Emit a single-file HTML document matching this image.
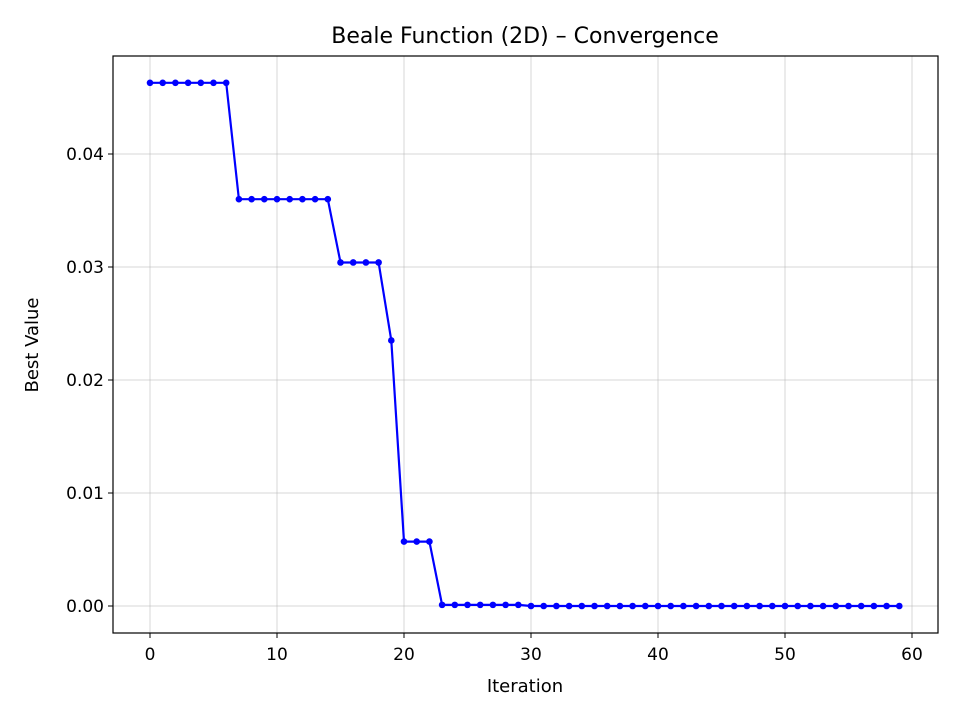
<!DOCTYPE html>
<html><head><meta charset="utf-8"><style>
body{margin:0;background:#fff;font-family:"Liberation Sans","DejaVu Sans",sans-serif;}
svg text{font-family:"DejaVu Sans","Liberation Sans",sans-serif;}
</style></head><body>
<svg id="chart" width="960" height="720" xmlns="http://www.w3.org/2000/svg">
<rect width="960" height="720" fill="#fff"/>
<g id="grid"></g>
<g id="series"></g>
<rect x="113" y="56" width="825" height="577" fill="none" stroke="#000" stroke-width="1.2"/>
<g id="axes"></g>
<text x="525" y="43" text-anchor="middle" font-size="22">Beale Function (2D) – Convergence</text>
<text x="525" y="692" text-anchor="middle" font-size="18">Iteration</text>
<text x="38" y="345" text-anchor="middle" font-size="18" transform="rotate(-90 38 345)">Best Value</text>
</svg>
<script>
const iterations = Array.from({length:60},(_,i)=>i);
const bestValues = [0.0463,0.0463,0.0463,0.0463,0.0463,0.0463,0.0463,
0.0360,0.0360,0.0360,0.0360,0.0360,0.0360,0.0360,0.0360,
0.0304,0.0304,0.0304,0.0304,
0.0235,
0.0057,0.0057,0.0057,
0.0001,0.0001,0.0001,0.0001,0.0001,0.0001,0.0001,
0,0,0,0,0,0,0,0,0,0,0,0,0,0,0,0,0,0,0,0,0,0,0,0,0,0,0,0,0,0];
const xTicks = [0,10,20,30,40,50,60];
const yTicks = [0,0.01,0.02,0.03,0.04];
const yTickLabels = ["0.00","0.01","0.02","0.03","0.04"];
const NS="http://www.w3.org/2000/svg";
const xs = v => 150 + v*12.7;
const ys = v => 606 - v*11300;
function mk(tag, attrs, parent){const e=document.createElementNS(NS,tag);for(const k in attrs)e.setAttribute(k,attrs[k]);parent.appendChild(e);return e;}
const grid=document.getElementById('grid'), axes=document.getElementById('axes'), series=document.getElementById('series');
xTicks.forEach(t=>{
  const x=xs(t);
  const g=mk('line',{x1:x,x2:x,y1:56,y2:633,stroke:'#b0b0b0','stroke-opacity':0.5,'stroke-width':1},grid);
  
  
  const tk=mk('line',{x1:x,x2:x,y1:633,y2:638,stroke:'#000'},axes);
  
  
  const l=mk('text',{x:x,y:660,'text-anchor':'middle','font-size':17},axes);
  l.textContent=t;
  
  
});
yTicks.forEach((t,i)=>{
  const y=ys(t);
  const g=mk('line',{x1:113,x2:938,y1:y,y2:y,stroke:'#b0b0b0','stroke-opacity':0.5,'stroke-width':1},grid);
  
  
  const tk=mk('line',{x1:108,x2:113,y1:y,y2:y,stroke:'#000'},axes);
  
  
  const l=mk('text',{x:104,y:y+6,'text-anchor':'end','font-size':17},axes);
  l.textContent=yTickLabels[i];
  
  
});
const pts=iterations.map((it,i)=>xs(it)+','+ys(bestValues[i])).join(' ');
const pl=mk('polyline',{points:pts,fill:'none',stroke:'#0000ff','stroke-width':2.2},series);


iterations.forEach((it,i)=>{
  const c=mk('circle',{cx:xs(it),cy:ys(bestValues[i]),r:3.3,fill:'#0000ff'},series);
  
  
});
</script>
</body></html>
